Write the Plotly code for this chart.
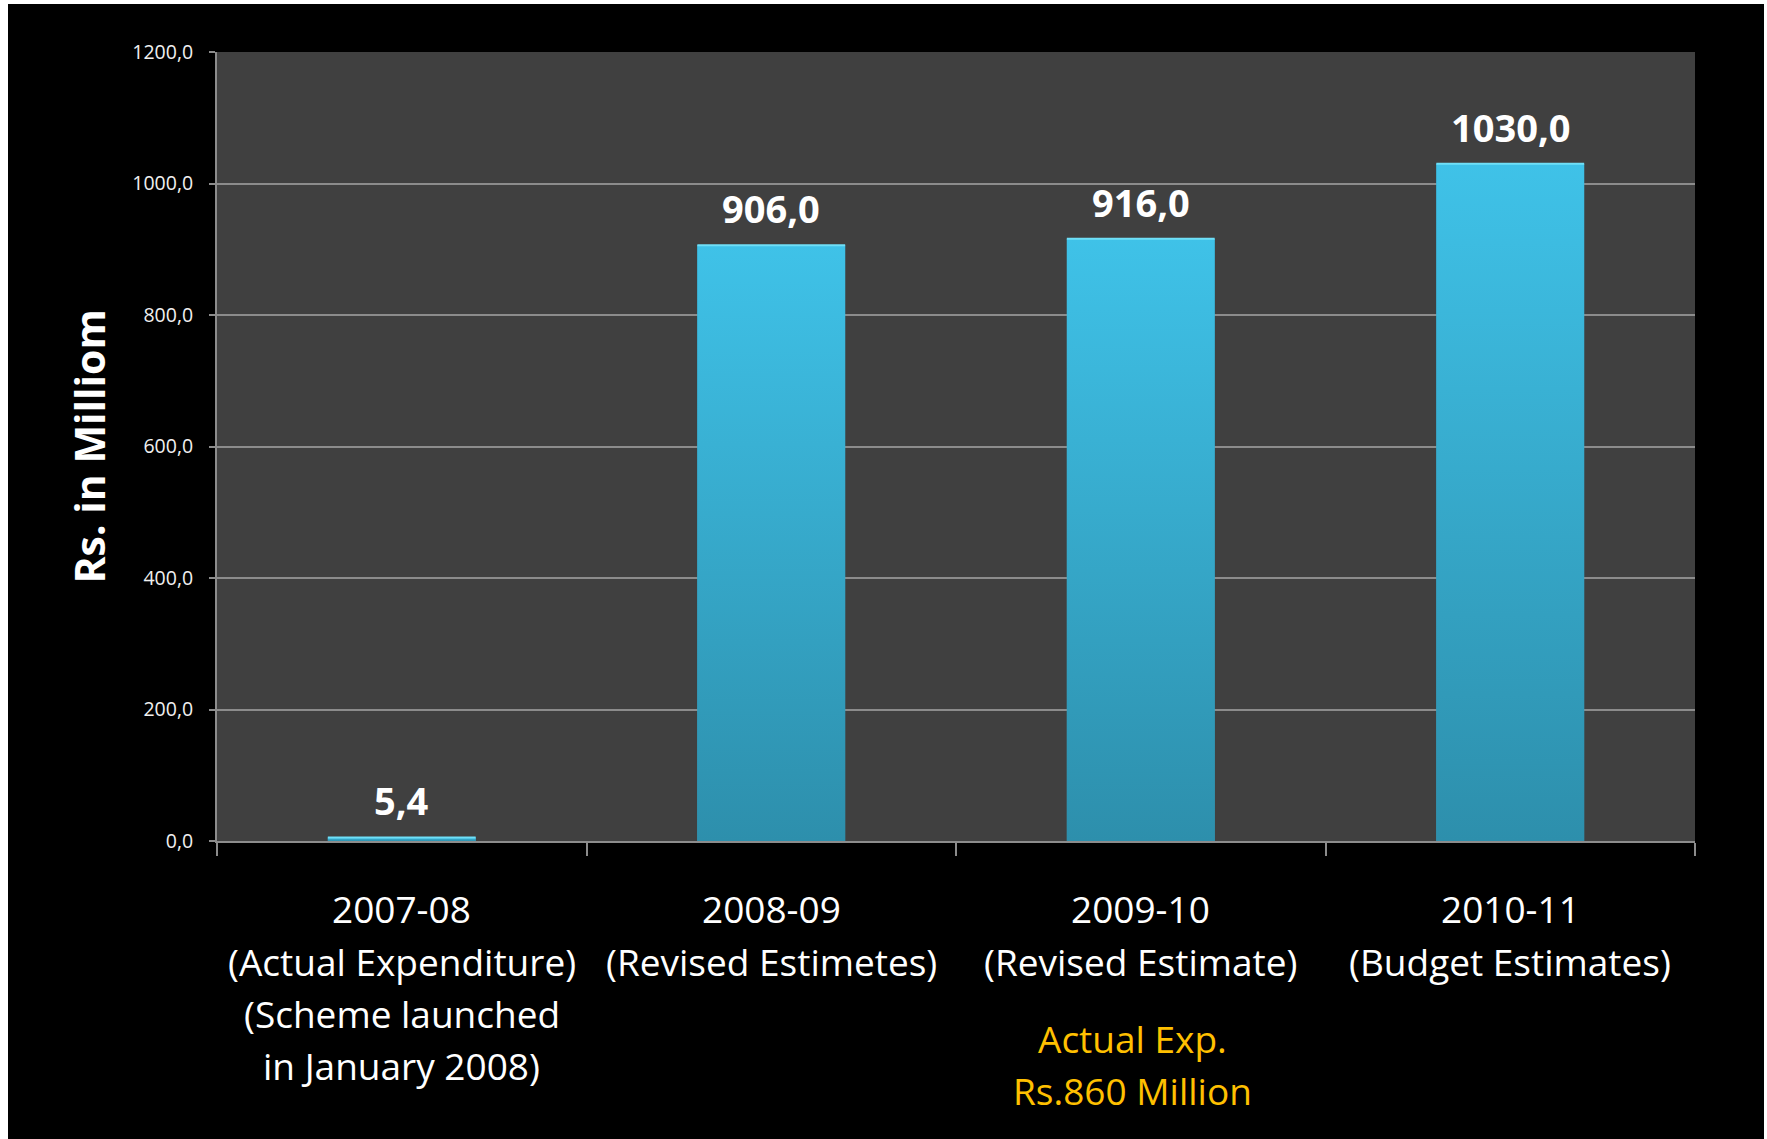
import plotly.graph_objects as go

# Scheme outlay by year (Rs. in million)
years = ["2007-08", "2008-09", "2009-10", "2010-11"]
sub_labels = [
    ["(Actual Expenditure)", "(Scheme launched", "in January 2008)"],
    ["(Revised Estimetes)"],
    ["(Revised Estimate)"],
    ["(Budget Estimates)"],
]
values = [5.4, 906.0, 916.0, 1030.0]
note_lines = ["Actual Exp.", "Rs.860 Million"]
note_index = 2

y_ticks = [0, 200, 400, 600, 800, 1000, 1200]

FONT = "Open Sans"
BAR_W = 0.4
BAR_TOP = "#3fc2e8"
BAR_BOTTOM = "#2d8fac"
GRID = "#8c8c8c"

W, H = 1767, 1139
L, R, T, B = 217, 72, 52, 298

xs = list(range(len(values)))

fig = go.Figure()

fig.add_trace(go.Bar(
    x=xs, y=values, width=BAR_W,
    marker=dict(color="#35a9cc", line=dict(width=0)),
    hoverinfo="skip", showlegend=False,
))

# vertical shading on each bar
for i, v in enumerate(values):
    x0, x1 = i - BAR_W / 2, i + BAR_W / 2
    fig.add_trace(go.Scatter(
        x=[x0, x1, x1, x0, x0], y=[0, 0, v, v, 0],
        mode="none", fill="toself",
        fillgradient=dict(type="vertical",
                          colorscale=[[0, BAR_BOTTOM], [1, BAR_TOP]]),
        hoverinfo="skip", showlegend=False,
    ))
    # light bevel along the top edge
    fig.add_trace(go.Scatter(
        x=[x0, x1], y=[v, v], mode="lines",
        line=dict(color="#6fdff7", width=2),
        hoverinfo="skip", showlegend=False,
    ))

annotations = []

# value labels above bars
for i, v in enumerate(values):
    annotations.append(dict(
        x=i, y=v, xref="x", yref="y", yanchor="middle", yshift=37,
        text=f"<b>{v:.1f}</b>".replace(".", ","), showarrow=False,
        font=dict(family=FONT, size=38, color="white"),
    ))

# category labels below the axis
line_shifts = [-67, -120, -172, -224]
for i, (yr, subs) in enumerate(zip(years, sub_labels)):
    for k, txt in enumerate([yr] + subs):
        annotations.append(dict(
            x=i, y=0, xref="x", yref="paper", yanchor="middle",
            yshift=line_shifts[k], text=txt, showarrow=False,
            font=dict(family=FONT, size=37, color="white"),
        ))

# actual expenditure note
for k, txt in enumerate(note_lines):
    annotations.append(dict(
        x=note_index, y=0, xref="x", yref="paper", yanchor="middle",
        xshift=-8, yshift=[-197, -249][k], text=txt, showarrow=False,
        font=dict(family=FONT, size=37, color="#FFC000"),
    ))

# y-axis title
annotations.append(dict(
    x=-(L - 88) / (W - L - R), y=0.5, xref="paper", yref="paper",
    xanchor="center", yanchor="middle", textangle=-90,
    text="<b>Rs. in Milliom</b>", showarrow=False,
    font=dict(family=FONT, size=41, color="white"),
))

# white frame strips along the left, top and right edges
pw, ph = W - L - R, H - T - B
def px_x(p):
    return (p - L) / pw
def px_y(p):
    return (H - B - p) / ph

shapes = [
    dict(type="rect", xref="paper", yref="paper", x0=px_x(0), x1=px_x(8),
         y0=px_y(H), y1=px_y(0), fillcolor="white", line=dict(width=0), layer="above"),
    dict(type="rect", xref="paper", yref="paper", x0=px_x(0), x1=px_x(W),
         y0=px_y(4), y1=px_y(0), fillcolor="white", line=dict(width=0), layer="above"),
    dict(type="rect", xref="paper", yref="paper", x0=px_x(1764), x1=px_x(W),
         y0=px_y(H), y1=px_y(0), fillcolor="white", line=dict(width=0), layer="above"),
]

fig.update_layout(
    width=W, height=H,
    margin=dict(l=L, r=R, t=T, b=B, pad=0),
    paper_bgcolor="#000000", plot_bgcolor="#404040",
    separators=", ",
    font=dict(family=FONT, color="white"),
    showlegend=False,
    annotations=annotations,
    shapes=shapes,
    xaxis=dict(
        range=[-0.5, len(values) - 0.5], showgrid=False, zeroline=False,
        showline=True, linecolor=GRID, linewidth=2,
        tickmode="array", tickvals=[i - 0.5 for i in range(len(values) + 1)],
        ticks="outside", ticklen=13, tickcolor=GRID, tickwidth=2,
        showticklabels=False, fixedrange=True,
    ),
    yaxis=dict(
        range=[0, 1200], tickmode="array", tickvals=y_ticks, tickformat=".1f",
        showgrid=True, gridcolor=GRID, gridwidth=1.5, zeroline=False,
        showline=True, linecolor=GRID, linewidth=2,
        ticks="outside", ticklen=6, tickcolor=GRID, tickwidth=2,
        tickfont=dict(family=FONT, size=19.5, color="#f0f0f0"),
        ticklabelstandoff=12, fixedrange=True,
    ),
)

fig.write_html("out.html")
